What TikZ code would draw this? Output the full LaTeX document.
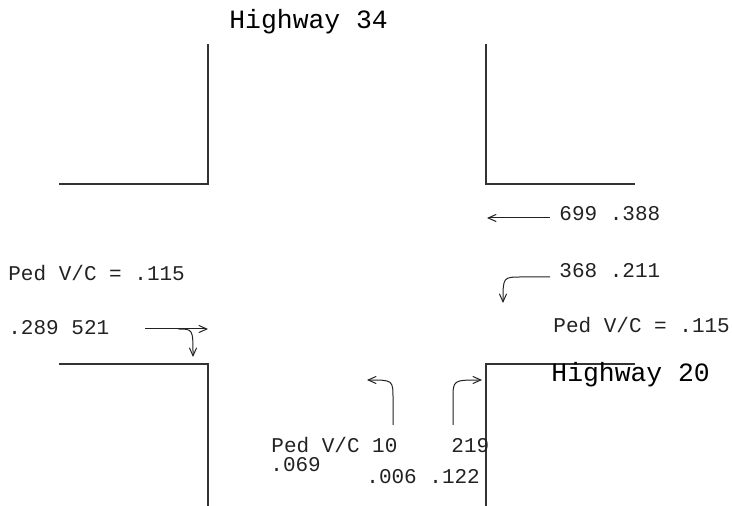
\documentclass[tikz,border=0pt]{standalone}
\usepackage{fontspec}
\usepackage{xcolor}
\usepackage{tikz}
\usetikzlibrary{arrows.meta}
\newfontfamily\courierfont{Liberation Mono}
\definecolor{curbgray}{HTML}{333333}
\definecolor{inkgray}{HTML}{222222}
\tikzset{
    curbline/.style={
        draw=curbgray, line width=0.75pt, line cap=rect
    },
    flowlabel/.style={
        anchor=base west, inner sep=0pt, text=inkgray,
        font=\courierfont\fontsize{10.5}{12}\selectfont
    },
    roadlabel/.style={
        anchor=base west, inner sep=0pt, text=black,
        font=\courierfont\fontsize{13.2}{15}\selectfont
    },
    turnarrow/.style={-{Straight Barb[length=4pt,width=3.6pt]}, line width=0.5pt, color=inkgray},
}
\begin{document}
\begin{tikzpicture}[x=0.5pt, y=-0.5pt]
        \useasboundingbox (0,0) rectangle (732,506);
        % curb corners
        \draw[curbline] (208,45) -- (208,184) -- (60,184);
        \draw[curbline] (486,45) -- (486,184) -- (634,184);
        \draw[curbline] (60,364) -- (208,364) -- (208,506);
        \draw[curbline] (486,506) -- (486,364) -- (634,364);
        % labels
        \node[roadlabel] (hwyns) at (229,29) {Highway 34};
        \node[roadlabel] (hwyew) at (551,382) {Highway 20};
        \node[flowlabel] (pedwest) at (8,281) {Ped V/C = .115};
        \node[flowlabel] (volwest) at (8,335) {.289 521};
        \node[flowlabel] (voleastthru) at (559,221) {699 .388};
        \node[flowlabel] (voleastleft) at (559,278) {368 .211};
        \node[flowlabel] (pedeast) at (553,333) {Ped V/C = .115};
        \node[flowlabel] (pedsouth) at (271,453) {Ped V/C 10};
        \node[flowlabel] (volsouthright) at (451,453) {219};
        \node[flowlabel] (pedsouthvc) at (270,472) {.069};
        \node[flowlabel] (vcsouth) at (366,484) {.006 .122};
        % movement arrows
        \coordinate (ebthrutail) at (550,218);
        \coordinate (ebthruhead) at (487,218);
        \coordinate (eblefttail) at (550,277);
        \coordinate (eblefthead) at (503,303);
        \coordinate (wbthrutail) at (145,329);
        \coordinate (wbthruhead) at (208,329);
        \coordinate (wbrightbend) at (178,329);
        \coordinate (wbrighthead) at (193,357);
        \coordinate (nblefttail) at (393,425);
        \coordinate (nblefthead) at (367,380);
        \coordinate (nbrighttail) at (453,425);
        \coordinate (nbrighthead) at (482,380);
        \draw[turnarrow] (ebthrutail) -- (ebthruhead);
        \draw[turnarrow] (eblefttail) -- (522,277) .. controls (503,277) .. (eblefthead);
        \draw[turnarrow] (wbthrutail) -- (wbthruhead);
        \draw[turnarrow] (wbrightbend) .. controls (193,329) .. (wbrighthead);
        \draw[turnarrow] (nblefttail) -- (393,399) .. controls (393,380) .. (nblefthead);
        \draw[turnarrow] (nbrighttail) -- (453,399) .. controls (453,380) .. (nbrighthead);
    \end{tikzpicture}
\end{document}
